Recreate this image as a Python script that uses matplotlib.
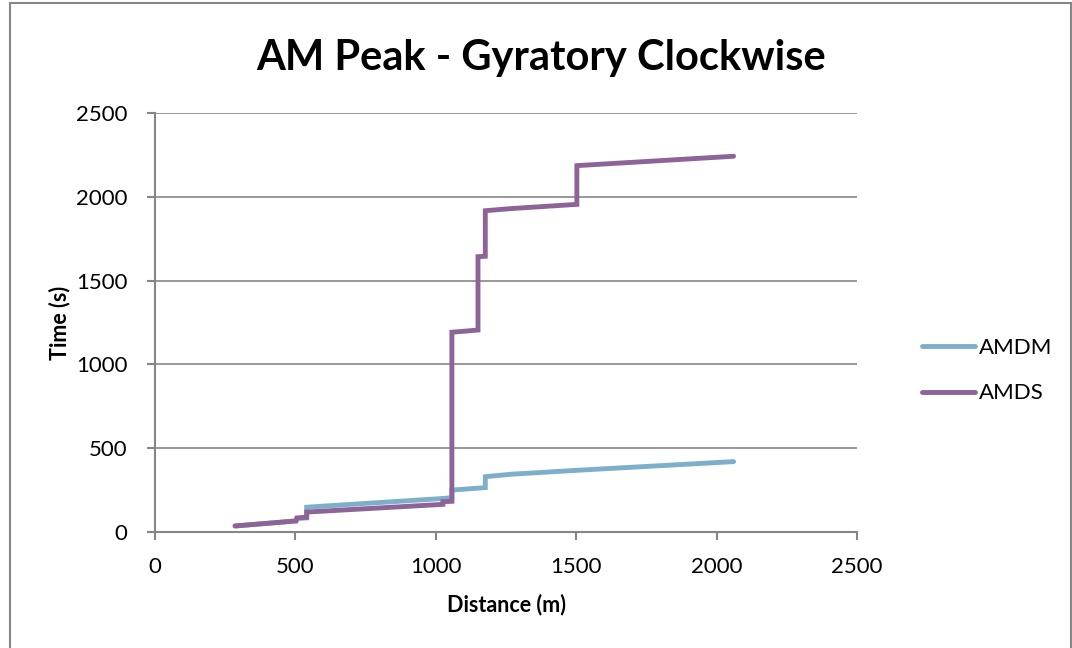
import matplotlib.pyplot as plt
from matplotlib.patches import Rectangle

# step profiles (distance in m, time in s)
amdm_dist = [285, 502, 505, 540, 540, 1025, 1057, 1057, 1176, 1176, 1270, 1500, 2060]
amdm_time = [36, 66, 80, 84, 148, 200, 205, 250, 265, 330, 345, 368, 420]

amds_dist = [285, 502, 505, 540, 540, 1025, 1025, 1057, 1057, 1150, 1150, 1176, 1176, 1270, 1502, 1502, 2060]
amds_time = [36, 66, 84, 88, 119, 165, 181, 183, 1192, 1205, 1643, 1645, 1917, 1930, 1955, 2186, 2242]

x_ticks = [0, 500, 1000, 1500, 2000, 2500]
y_ticks = [0, 500, 1000, 1500, 2000, 2500]

plt.rcParams['font.family'] = ['Lato', 'DejaVu Sans']
grey = '#868686'

fig = plt.figure(figsize=(10.72, 6.48), dpi=100)
ax = fig.add_axes([0.1446, 0.179, 0.655, 0.6466])

ax.plot(amdm_dist, amdm_time, color='#7DAFCB', lw=3.5, solid_capstyle='round',
        solid_joinstyle='miter', label='AMDM')
ax.plot(amds_dist, amds_time, color='#8E6498', lw=3.5, solid_capstyle='round',
        solid_joinstyle='miter', label='AMDS')

ax.set_xlim(0, 2500)
ax.set_ylim(0, 2500)
ax.set_xticks(x_ticks)
ax.set_yticks(y_ticks)
ax.yaxis.grid(True, color=grey, lw=1.2)
ax.set_axisbelow(True)
for s in ['top', 'right']:
    ax.spines[s].set_visible(False)
for s in ['left', 'bottom']:
    ax.spines[s].set_color(grey)
    ax.spines[s].set_linewidth(1.5)
ax.tick_params(colors=grey, labelcolor='black', labelsize=16, length=6, width=1.5)
ax.tick_params(axis='y', pad=14)
ax.tick_params(axis='x', pad=12)

ax.set_xlabel('Distance (m)', fontsize=15.5, fontweight='bold', labelpad=12)
ax.set_ylabel('Time (s)', fontsize=15.5, fontweight='bold', labelpad=4)
fig.text(0.505, 0.91, 'AM Peak - Gyratory Clockwise', fontsize=30, fontweight='bold',
         ha='center', va='center')

ax.legend(loc='center left', bbox_to_anchor=(1.064, 0.385), frameon=False, fontsize=16,
          handlelength=2.4, labelspacing=1.15, handletextpad=0.15)

fig.patches.append(Rectangle((0.009, -0.01), 0.99, 1.005, transform=fig.transFigure,
                             fill=False, edgecolor=grey, lw=1.5))

fig.savefig('out.png', dpi=100)
